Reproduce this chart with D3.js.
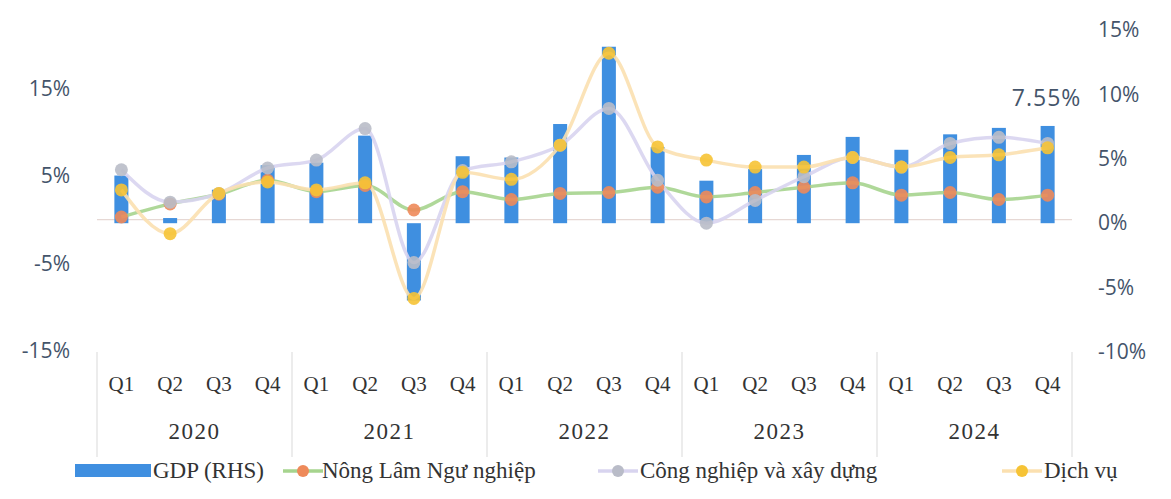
<!DOCTYPE html>
<html>
<head>
<meta charset="utf-8">
<script src="https://cdn.jsdelivr.net/npm/d3@7"></script>
<style>
  html, body { margin: 0; padding: 0; background: #ffffff; }
  svg { display: block; }
</style>
</head>
<body>
<svg id="chart" width="1171" height="499"></svg>
<script>
// Quarterly growth, year on year (%)
const years = ["2020", "2021", "2022", "2023", "2024"];
const quarters = ["Q1", "Q2", "Q3", "Q4"];

const gdp = [3.7, 0.4, 2.6, 4.5, 4.7, 6.8, -6.0, 5.2, 5.1, 7.7, 13.7, 5.9,
             3.3, 4.2, 5.3, 6.7, 5.7, 6.9, 7.4, 7.55];
const nongLamNgu = [0.3, 1.8, 2.9, 4.5, 3.2, 3.9, 1.1, 3.2, 2.3, 3.0, 3.1, 3.7,
                    2.6, 3.1, 3.7, 4.2, 2.8, 3.1, 2.3, 2.8];
const congNghiep = [5.7, 2.0, 3.0, 5.9, 6.8, 10.4, -4.9, 5.6, 6.6, 8.5, 12.7, 4.5,
                    -0.4, 2.2, 4.9, 7.1, 6.0, 8.7, 9.4, 8.7];
const dichVu = [3.4, -1.6, 3.0, 4.3, 3.4, 4.2, -9.0, 5.4, 4.6, 8.5, 19.0, 8.3,
                6.8, 6.0, 6.0, 7.1, 6.0, 7.1, 7.4, 8.2];

const leftTicks = [-15, -5, 5, 15];
const rightTicks = [-10, -5, 0, 5, 10, 15];
const lastLabel = "7.55%";

const svg = d3.select("#chart");

const plot = { left: 97, right: 1072, top: 27, bottom: 351 };

const keys = [];
years.forEach(y => quarters.forEach(q => keys.push(y + "-" + q)));

const x = d3.scaleBand().domain(keys).range([plot.left, plot.right]).padding(0);
const yL = d3.scaleLinear().domain([-15, 22]).range([plot.bottom, plot.top]);
const yR = d3.scaleLinear().domain([-10, 15]).range([plot.bottom + 1, plot.top + 3]);

const axisColor = "#44546a";
const sans = "'Open Sans', Roboto, sans-serif";
const serif = "'Liberation Serif', 'DejaVu Serif', serif";

// left axis
const gl = svg.append("g")
  .attr("transform", `translate(${plot.left - 27},0)`)
  .call(d3.axisLeft(yL).tickValues(leftTicks).tickFormat(d => d + "%").tickSize(0).tickPadding(0));
gl.select(".domain").remove();
gl.selectAll("text").attr("font-family", sans).attr("font-size", 21).attr("fill", axisColor);

// right axis
const gr = svg.append("g")
  .attr("transform", `translate(${plot.right + 26},0)`)
  .call(d3.axisRight(yR).tickValues(rightTicks).tickFormat(d => d + "%").tickSize(0).tickPadding(0));
gr.select(".domain").remove();
gr.selectAll("text").attr("font-family", sans).attr("font-size", 21).attr("fill", axisColor);

// zero baseline
svg.append("line")
  .attr("x1", plot.left).attr("x2", plot.right)
  .attr("y1", yL(0)).attr("y2", yL(0))
  .attr("stroke", "#e6d8d4").attr("stroke-width", 1.2);

// GDP bars (right-hand scale)
const barW = 14;
svg.append("g").selectAll("rect")
  .data(gdp)
  .join("rect")
  .attr("x", (d, i) => x(keys[i]) + x.bandwidth() / 2 - barW / 2)
  .attr("y", d => Math.min(yR(d), yR(0)))
  .attr("width", barW)
  .attr("height", d => Math.abs(yR(d) - yR(0)))
  .attr("fill", "#3f8fe0");

// sector lines (left-hand scale)
const series = [
  { name: "Nông Lâm Ngư nghiệp", values: nongLamNgu, line: "#a6d48e", dot: "#ee8a5a" },
  { name: "Công nghiệp và xây dựng", values: congNghiep, line: "#d8d4ef", dot: "#b9bcc8" },
  { name: "Dịch vụ", values: dichVu, line: "#fbe0b0", dot: "#f6c335" }
];

const lineGen = d3.line()
  .x((d, i) => x(keys[i]) + x.bandwidth() / 2)
  .y(d => yL(d))
  .curve(d3.curveMonotoneX);

series.forEach(s => {
  svg.append("path")
    .datum(s.values)
    .attr("d", lineGen)
    .attr("fill", "none")
    .attr("stroke", s.line)
    .attr("stroke-width", 3.5)
    .attr("stroke-opacity", 0.9);
});
series.forEach(s => {
  svg.append("g").selectAll("circle")
    .data(s.values)
    .join("circle")
    .attr("cx", (d, i) => x(keys[i]) + x.bandwidth() / 2)
    .attr("cy", d => yL(d))
    .attr("r", 6.5)
    .attr("fill", s.dot)
    .attr("fill-opacity", 0.9);
});

// last GDP value label
svg.append("text")
  .attr("x", x(keys[keys.length - 1]) + x.bandwidth() / 2 - 1)
  .attr("y", yR(gdp[gdp.length - 1]) - 20)
  .attr("text-anchor", "middle")
  .attr("font-family", sans).attr("font-size", 23)
  .attr("letter-spacing", 1)
  .attr("fill", axisColor)
  .text(lastLabel);

// category axis: quarters and years
const qg = svg.append("g");
keys.forEach((k, i) => {
  qg.append("text")
    .attr("x", x(k) + x.bandwidth() / 2)
    .attr("y", 391)
    .attr("text-anchor", "middle")
    .attr("font-family", serif).attr("font-size", 21)
    .attr("fill", "#333333")
    .text(quarters[i % 4]);
});
const yearW = x.bandwidth() * 4;
years.forEach((yv, j) => {
  const x0 = plot.left + j * yearW;
  qg.append("text")
    .attr("x", x0 + yearW / 2)
    .attr("y", 439)
    .attr("text-anchor", "middle")
    .attr("font-family", serif).attr("font-size", 23)
    .attr("letter-spacing", 1.5)
    .attr("fill", "#333333")
    .text(yv);
});
d3.range(years.length + 1).forEach(j => {
  const xx = plot.left + j * yearW;
  qg.append("line")
    .attr("x1", xx).attr("x2", xx)
    .attr("y1", 352).attr("y2", 457)
    .attr("stroke", "#d9d9d9").attr("stroke-width", 1);
});

// legend
const lg = svg.append("g").attr("font-family", serif).attr("font-size", 23).attr("fill", "#333333");
const ly = 471;
lg.append("rect").attr("x", 75).attr("y", ly - 7).attr("width", 76).attr("height", 13).attr("fill", "#3f8fe0");
lg.append("text").attr("x", 153).attr("y", ly + 7).text("GDP (RHS)");
const legendItems = [
  { s: series[0], x0: 283, tx: 322 },
  { s: series[1], x0: 598, tx: 640 },
  { s: series[2], x0: 1002, tx: 1044 }
];
legendItems.forEach(it => {
  lg.append("line").attr("x1", it.x0).attr("x2", it.x0 + 40)
    .attr("y1", ly).attr("y2", ly)
    .attr("stroke", it.s.line).attr("stroke-width", 3.5);
  lg.append("circle").attr("cx", it.x0 + 20).attr("cy", ly).attr("r", 6).attr("fill", it.s.dot);
  lg.append("text").attr("x", it.tx).attr("y", ly + 7).text(it.s.name);
});
</script>
</body>
</html>
